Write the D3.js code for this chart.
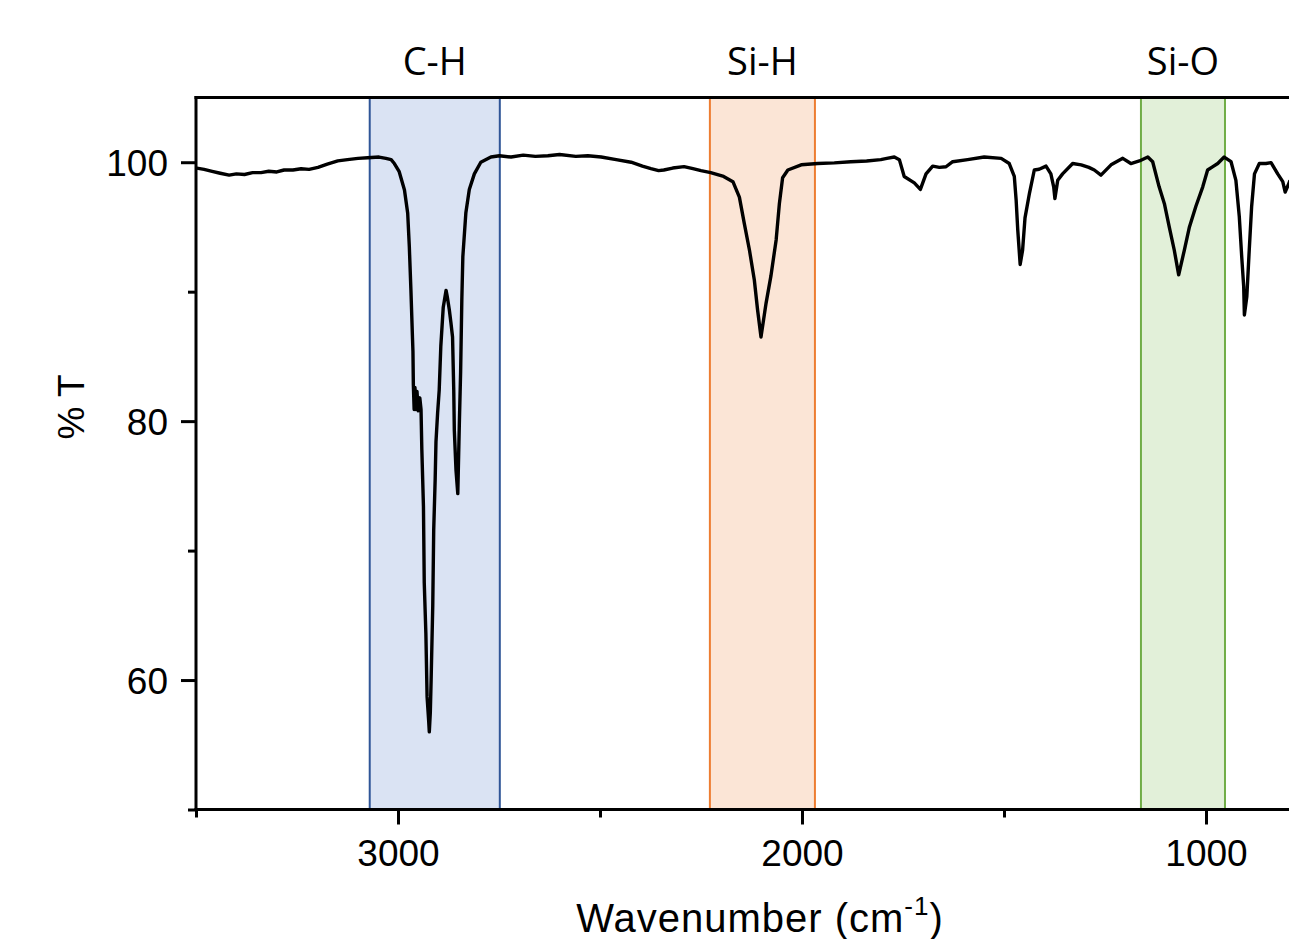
<!DOCTYPE html>
<html>
<head>
<meta charset="utf-8">
<script src="https://cdn.jsdelivr.net/npm/d3@7"></script>
<style>
  html, body { margin: 0; padding: 0; background: #fff; }
  svg { display: block; }
</style>
</head>
<body>
<svg id="chart" width="1289" height="939"></svg>
<script>
// ---- Data ----
const wavenumber = [
  3498, 3480, 3460, 3440, 3418, 3400, 3380, 3360, 3339, 3320, 3300, 3282, 3260, 3240, 3220, 3198, 3175, 3149, 3125, 3099,
  3075, 3047, 3030, 3017, 3009, 2997, 2984, 2976, 2972, 2968, 2964, 2963, 2962, 2960, 2958, 2956, 2953, 2950, 2946, 2943,
  2941, 2937, 2935, 2931, 2928, 2924, 2922.5, 2920, 2918, 2914, 2911.6, 2908, 2906, 2902, 2898, 2894, 2888, 2881, 2878, 2873,
  2869, 2865, 2862, 2860.6, 2856.4, 2852, 2848.3, 2845, 2842, 2839.5, 2832, 2823.5, 2811, 2795, 2770, 2749,
  2720, 2690, 2660, 2629, 2600, 2560, 2530, 2497, 2460, 2423, 2395, 2374, 2355, 2342, 2320, 2292, 2270, 2250, 2226, 2194,
  2171, 2155, 2143, 2130, 2118, 2110, 2101.5, 2089, 2077, 2064, 2056, 2048, 2035, 2002, 1961, 1920, 1879, 1840, 1805, 1790,
  1771.5, 1759, 1747, 1722, 1707, 1693, 1676.5, 1660, 1643.6, 1627, 1590, 1549, 1507, 1487, 1474.5, 1470, 1466, 1460, 1454, 1448,
  1437, 1425, 1413, 1396, 1384, 1377, 1374, 1367, 1355, 1330, 1309, 1290, 1276.5, 1260, 1235, 1206, 1186, 1165, 1144, 1132,
  1116, 1103, 1091, 1078.5, 1067.6, 1053.7, 1041, 1025, 1008, 996, 983, 971, 955, 938, 926, 917.6, 911.6, 906.7, 905, 899,
  893, 887, 880, 868, 851.5, 839, 822.5, 810, 804, 797, 792
];
const transmittance = [
  99.55, 99.45, 99.3, 99.15, 99.0, 99.1, 99.05, 99.2, 99.2, 99.3, 99.25, 99.4, 99.4, 99.5, 99.45, 99.6, 99.85, 100.1, 100.2, 100.3,
  100.35, 100.4, 100.3, 100.2, 99.9, 99.27, 97.86, 96.06, 93.5, 90.1, 86.3, 85.4, 82.8, 80.9, 82.6, 80.9, 82.3, 80.8, 81.8, 80.9,
  77.8, 73.4, 67.5, 63.6, 58.7, 56.8, 56.0, 57.5, 60.0, 65.7, 71.6, 75.5, 78.4, 80.6, 82.4, 85.8, 88.8, 90.1, 89.6, 88.6,
  87.6, 86.5, 82.4, 79.3, 76.2, 74.4, 79.6, 83.8, 89.4, 92.7, 96.1, 97.9, 99.1, 100.0, 100.4, 100.5,
  100.4, 100.55, 100.45, 100.5, 100.6, 100.45, 100.5, 100.4, 100.2, 100.0, 99.7, 99.5, 99.35, 99.4, 99.55, 99.66, 99.5, 99.35, 99.2, 98.9,
  98.5, 97.3, 95.3, 93.2, 90.9, 88.6, 86.5, 89.1, 91.2, 94.0, 96.8, 98.8, 99.4, 99.8, 99.9, 99.95, 100.04, 100.1, 100.2, 100.3,
  100.4, 100.2, 98.9, 98.4, 97.9, 99.1, 99.7, 99.6, 99.65, 100.04, 100.2, 100.4, 100.3, 99.9, 98.9, 97.1, 94.8, 92.1, 93.2, 95.7,
  97.6, 99.4, 99.46, 99.7, 99.1, 98.1, 97.2, 98.6, 99.1, 99.9, 99.8, 99.6, 99.4, 99.0, 99.8, 100.3, 99.9, 100.1, 100.4, 100.04,
  98.1, 96.8, 95.0, 93.2, 91.3, 93.2, 95.0, 96.6, 98.1, 99.4, 99.66, 99.9, 100.4, 100.04, 98.6, 95.8, 92.7, 90.4, 88.2, 89.6,
  93.2, 96.6, 99.1, 99.9, 99.9, 99.97, 99.1, 98.5, 97.7, 98.2, 98.6
];

const bandLabels = ["C-H", "Si-H", "Si-O"];
const bandStart = [3070, 2228, 1161];
const bandEnd = [2748, 1968, 953];
const bandFill = ["#dae3f3", "#fbe5d6", "#e2f0d9"];
const bandStroke = ["#2f5597", "#ed7d31", "#70ad47"];

const xMajorTicks = [3000, 2000, 1000];
const xMinorTicks = [3500, 2500, 1500];
const yMajorTicks = [60, 80, 100];
const yMinorTicks = [50, 70, 90];

// ---- Layout ----
const svg = d3.select("#chart");
const plotLeft = 196, plotTop = 97.5, plotBottom = 809.5, plotRight = 1289;

const x = d3.scaleLinear().domain([3500, 780]).range([plotLeft, plotLeft + 2720 * 0.404]);
const y = d3.scaleLinear().domain([50, 105]).range([plotBottom, plotTop]);

const tickFont = "'Liberation Sans', Arial, sans-serif";

// clip
svg.append("defs").append("clipPath").attr("id", "plotclip")
  .append("rect").attr("x", plotLeft).attr("y", plotTop).attr("width", plotRight - plotLeft + 10).attr("height", plotBottom - plotTop);

// bands
const bands = bandLabels.map((l, i) => ({label: l, s: bandStart[i], e: bandEnd[i], fill: bandFill[i], stroke: bandStroke[i]}));
const bg = svg.append("g");
bg.selectAll("rect").data(bands).join("rect")
  .attr("x", d => x(d.s)).attr("y", plotTop)
  .attr("width", d => x(d.e) - x(d.s)).attr("height", plotBottom - plotTop)
  .attr("fill", d => d.fill);
bands.forEach(d => {
  [d.s, d.e].forEach(v => {
    bg.append("line").attr("x1", x(v)).attr("x2", x(v)).attr("y1", plotTop).attr("y2", plotBottom)
      .attr("stroke", d.stroke).attr("stroke-width", 2);
  });
});
svg.append("g").selectAll("text").data(bands).join("text")
  .attr("x", d => x((d.s + d.e) / 2)).attr("y", 75)
  .attr("text-anchor", "middle")
  .attr("font-family", "'Open Sans', 'Noto Sans', sans-serif")
  .attr("font-size", 38)
  .attr("fill", "#000")
  .text(d => d.label);

// spectrum line
const pts = wavenumber.map((w, i) => [w, transmittance[i]]);
svg.append("path")
  .datum(pts)
  .attr("clip-path", "url(#plotclip)")
  .attr("fill", "none")
  .attr("stroke", "#000")
  .attr("stroke-width", 3.4)
  .attr("stroke-linejoin", "round")
  .attr("d", d3.line().x(d => x(d[0])).y(d => y(d[1])));

// axes
function styleAxis(g) {
  g.selectAll("path.domain").attr("stroke", "#000").attr("stroke-width", 3);
  g.selectAll(".tick line").attr("stroke", "#000").attr("stroke-width", 3);
  g.selectAll(".tick text").attr("font-family", tickFont).attr("font-size", 37).attr("fill", "#000");
}

// bottom axis
const xAxisMajor = svg.append("g").attr("transform", `translate(0,${plotBottom})`)
  .call(d3.axisBottom(x).tickValues(xMajorTicks).tickSize(15).tickSizeOuter(0).tickFormat(d3.format("d")));
xAxisMajor.select("path.domain").remove();
styleAxis(xAxisMajor);
xAxisMajor.selectAll(".tick text").attr("y", 56).attr("dy", 0);

const xAxisMinor = svg.append("g").attr("transform", `translate(0,${plotBottom})`)
  .call(d3.axisBottom(x).tickValues(xMinorTicks).tickSize(8).tickSizeOuter(0).tickFormat(""));
xAxisMinor.select("path.domain").remove();
styleAxis(xAxisMinor);

// left axis
const yAxisMajor = svg.append("g").attr("transform", `translate(${plotLeft},0)`)
  .call(d3.axisLeft(y).tickValues(yMajorTicks).tickSize(15).tickSizeOuter(0).tickFormat(d3.format("d")));
yAxisMajor.select("path.domain").remove();
styleAxis(yAxisMajor);
yAxisMajor.selectAll(".tick text").attr("x", -28).attr("dy", "0.36em");

const yAxisMinor = svg.append("g").attr("transform", `translate(${plotLeft},0)`)
  .call(d3.axisLeft(y).tickValues(yMinorTicks).tickSize(8).tickSizeOuter(0).tickFormat(""));
yAxisMinor.select("path.domain").remove();
styleAxis(yAxisMinor);

// frame lines
svg.append("line").attr("x1", plotLeft).attr("x2", plotLeft).attr("y1", plotTop - 1.5).attr("y2", plotBottom + 1.5)
  .attr("stroke", "#000").attr("stroke-width", 3);
svg.append("line").attr("x1", plotLeft - 1.5).attr("x2", plotRight + 5).attr("y1", plotBottom).attr("y2", plotBottom)
  .attr("stroke", "#000").attr("stroke-width", 3);
svg.append("line").attr("x1", plotLeft - 1.5).attr("x2", plotRight + 5).attr("y1", plotTop).attr("y2", plotTop)
  .attr("stroke", "#000").attr("stroke-width", 3);

// axis titles
const xt = svg.append("text")
  .attr("x", 760).attr("y", 932)
  .attr("text-anchor", "middle")
  .attr("font-family", tickFont)
  .attr("font-size", 40)
  .attr("letter-spacing", 1)
  .attr("fill", "#000");
xt.append("tspan").text("Wavenumber (cm");
xt.append("tspan").attr("font-size", 26).attr("dy", -17).text("-1");
xt.append("tspan").attr("dy", 17).text(")");

svg.append("text")
  .attr("transform", "translate(84,407) rotate(-90)")
  .attr("text-anchor", "middle")
  .attr("font-family", tickFont)
  .attr("font-size", 37)
  .attr("fill", "#000")
  .text("% T");
</script>
</body>
</html>
